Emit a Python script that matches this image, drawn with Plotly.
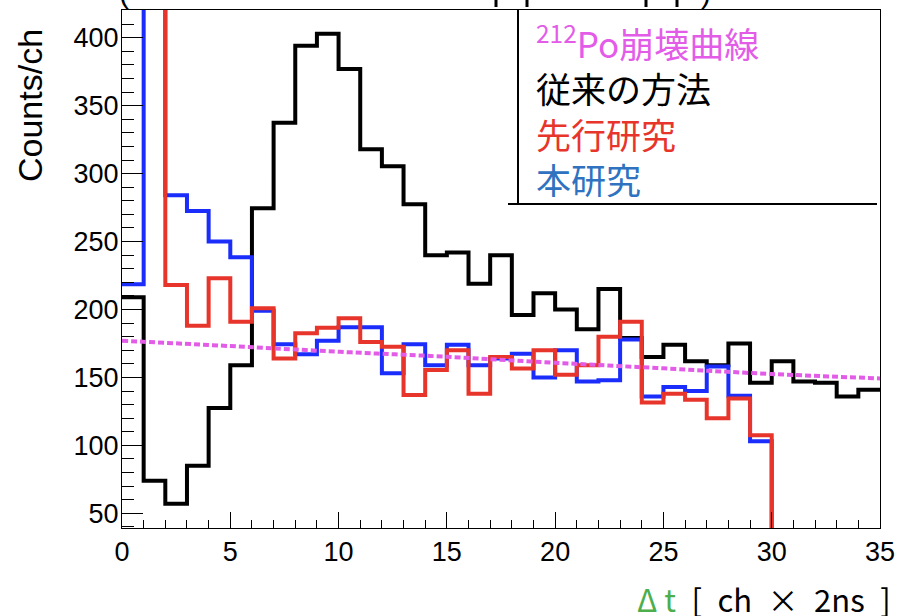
import plotly.graph_objects as go

# ---------------- data ----------------
bin_left = list(range(35))            # channel (bin left edge), width 1
conventional = [209, 74, 57, 85, 127.5, 159, 274.5, 337.5, 394, 403, 377, 318, 305.5, 277.5,
                240, 242, 219, 240, 196, 212, 200, 185.5, 215, 179, 165, 174, 162, 159, 175,
                146, 162, 147, 146, 136, 141]
previous = [600, 600, 218, 188, 223, 191, 201, 164, 182.5, 186.5, 193.5, 176, 172.5, 137,
            155.5, 170, 138, 165, 156.5, 170, 152, 159, 180, 191, 131.5, 138, 133.5, 120,
            134.5, 107.5, 0, 0, 0, 0, 0]
this_study = [218.5, 600, 284, 272.5, 250, 238.5, 199, 174.5, 167, 177, 187, 187, 153, 174.5,
              159, 174, 159, 164, 167.5, 150, 170, 147, 148, 178, 136, 143, 140, 158, 136.5,
              103, 0, 0, 0, 0, 0]
decay_x = [0, 5, 10, 15, 20, 25, 30, 35]
decay_y = [177, 173.1, 168.9, 165.2, 160.8, 156.7, 152.5, 149.3]

labels = ["<sup>212</sup>Po崩壊曲線", "従来の方法", "先行研究", "本研究"]
x_ticks = [0, 5, 10, 15, 20, 25, 30, 35]
y_ticks = [50, 100, 150, 200, 250, 300, 350, 400]

# ---------------- styling ----------------
MAGENTA = "#e35ce8"
RED = "#e8352b"
BLUE = "#1a2dfa"
BLUE_TXT = "#2f72c0"
GREEN = "#4cae4c"

W, H = 898, 616
L, R, T, B = 122, 18, 10, 88
PW, PH = W - L - R, H - T - B


def pxx(xp):
    return (xp - L) / PW


def pxy(yp):
    return (H - B - yp) / PH


def step(vals):
    edges = bin_left + [bin_left[-1] + 1]
    return edges, list(vals) + [vals[-1]]


fig = go.Figure()
for vals, col in [(conventional, "black"), (this_study, BLUE), (previous, RED)]:
    xs, ys = step(vals)
    fig.add_trace(go.Scatter(x=xs, y=ys, mode="lines", line=dict(color=col, width=4, shape="hv"),
                             showlegend=False, hoverinfo="skip"))
fig.add_trace(go.Scatter(x=decay_x, y=decay_y, mode="lines",
                         line=dict(color=MAGENTA, width=4, dash="6px,3px", shape="spline"),
                         showlegend=False, hoverinfo="skip"))

axis_font = dict(family="Liberation Sans, Arial, sans-serif", size=27, color="black")
fig.update_xaxes(range=[0, 35], tickvals=x_ticks, ticks="inside", ticklen=16, tickwidth=1,
                 tickcolor="black", showline=True, linecolor="black", linewidth=1, mirror=True,
                 showgrid=False, zeroline=False, tickfont=axis_font, automargin=False,
                 minor=dict(ticks="inside", dtick=1, ticklen=8, tickwidth=1, tickcolor="black",
                            showgrid=False))
fig.update_yaxes(range=[39.2, 420.4], tickvals=y_ticks, ticks="inside", ticklen=21, tickwidth=1,
                 tickcolor="black", showline=True, linecolor="black", linewidth=1, mirror=True,
                 showgrid=False, zeroline=False, tickfont=axis_font, automargin=False,
                 ticklabelstandoff=-3,
                 minor=dict(ticks="inside", dtick=10, tick0=0, ticklen=12, tickwidth=1,
                            tickcolor="black", showgrid=False))

# legend box
fig.add_shape(type="rect", xref="paper", yref="paper", x0=pxx(518), x1=1, y0=pxy(204), y1=1,
              fillcolor="white", line=dict(width=0), layer="below")
fig.add_shape(type="line", xref="paper", yref="paper", x0=pxx(518), x1=pxx(518), y0=pxy(205), y1=1,
              line=dict(color="black", width=2))
fig.add_shape(type="line", xref="paper", yref="paper", x0=pxx(508), x1=pxx(877), y0=pxy(204), y1=pxy(204),
              line=dict(color="black", width=2))

cjk = "Noto Sans CJK JP"
leg_colors = [MAGENTA, "black", RED, BLUE_TXT]
leg_text = "<br>".join(f"<span style='color:{c}'>{t}</span>" for t, c in zip(labels, leg_colors))
fig.add_annotation(text=leg_text, xref="paper", yref="paper", x=pxx(534), y=pxy(110),
                   xanchor="left", yanchor="middle", align="left", showarrow=False,
                   font=dict(family=cjk, size=35, color="black"))

# axis titles
fig.add_annotation(text="Counts/ch", xref="paper", yref="paper", x=pxx(30), y=pxy(106),
                   xanchor="center", yanchor="middle", textangle=-90, showarrow=False,
                   font=dict(family="Liberation Sans, Arial, sans-serif", size=34, color="black"))
fig.add_annotation(text=f"<span style='color:{GREEN}'>Δ t</span>\u2002[\u2002ch\u2002×\u20022ns\u2002]",
                   xref="paper", yref="paper",
                   x=pxx(893), y=pxy(598), xanchor="right", yanchor="middle", showarrow=False,
                   font=dict(family=cjk, size=31, color="black"))

# clipped fragments of a title above the frame
for txt, xp in [("(", 124), (")", 706)]:
    fig.add_annotation(text=txt, xref="paper", yref="paper", x=pxx(xp), y=pxy(-8),
                       xanchor="center", yanchor="middle", showarrow=False,
                       font=dict(family="Liberation Sans, Arial", size=30, color="black"))
for xp in [496, 527, 646, 677]:
    fig.add_shape(type="line", xref="paper", yref="paper", x0=pxx(xp), x1=pxx(xp), y0=pxy(0), y1=pxy(7),
                  line=dict(color="black", width=3))

fig.update_layout(width=W, height=H, margin=dict(l=L, r=R, t=T, b=B),
                  paper_bgcolor="white", plot_bgcolor="white", showlegend=False)

fig.write_html("out.html", config={"displayModeBar": False},
               post_script="document.body.style.margin='0px';")
